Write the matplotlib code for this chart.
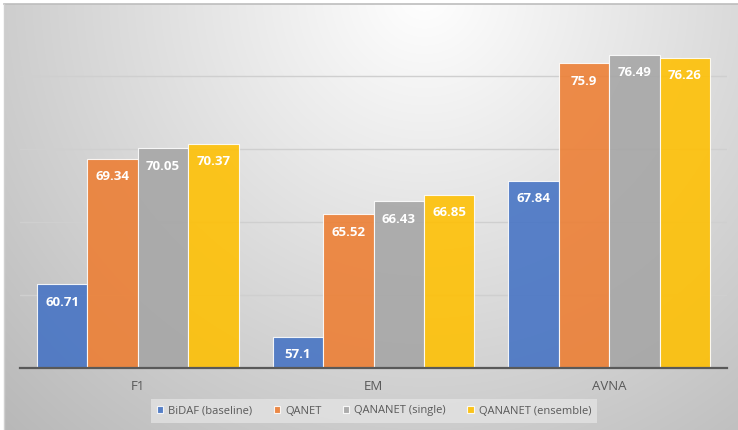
import matplotlib.pyplot as plt
import numpy as np

plt.rcParams['font.family'] = ['Open Sans', 'DejaVu Sans']

# data
categories = ['F1', 'EM', 'AVNA']
models = ['BiDAF (baseline)', 'QANET', 'QANANET (single)', 'QANANET (ensemble)']
bidaf = [60.71, 57.1, 67.84]
qanet = [69.34, 65.52, 75.9]
qananet_single = [70.05, 66.43, 76.49]
qananet_ensemble = [70.37, 66.85, 76.26]
value_labels = [['60.71', '57.1', '67.84'],
                ['69.34', '65.52', '75.9'],
                ['70.05', '66.43', '76.49'],
                ['70.37', '66.85', '76.26']]

colors = ['#4472C4', '#ED7D31', '#A5A5A5', '#FFC000']
series = [bidaf, qanet, qananet_single, qananet_ensemble]

W, H = 738, 430
fig = plt.figure(figsize=(W / 100, H / 100), dpi=100)
fig.patch.set_facecolor('white')

# radial gradient background of the chart area
bg = fig.add_axes([4 / W, 0, (W - 4) / W, (H - 4) / H])
yy, xx = np.mgrid[0:H - 4, 0:W - 4]
d = np.sqrt((xx - 420) ** 2 + (yy + 10) ** 2)
shade = np.clip(1.0 - 0.00046 * d, 0, 1)
bg.imshow(np.dstack([shade] * 3), aspect='auto', interpolation='bilinear')
bg.axis('off')
fig.add_artist(plt.Line2D([4 / W, 1], [(H - 4) / H] * 2, color='#BDBDBD', lw=1.2,
                          transform=fig.transFigure))
fig.add_artist(plt.Line2D([4 / W, 4 / W], [0, (H - 4) / H], color='#D0D0D0', lw=1.0,
                          transform=fig.transFigure))

ax = fig.add_axes([20 / W, (H - 367.5) / H, 707 / W, 364 / H])
ax.patch.set_alpha(0)

x = np.arange(len(categories))
width = 0.214

for i, vals in enumerate(series):
    offs = (i - 1.5) * width
    bars = ax.bar(x + offs, vals, width, color=colors[i], alpha=0.88,
                  edgecolor=(1, 1, 1, 0.45), linewidth=0.8, label=models[i], zorder=3)
    for rect, lab in zip(bars, value_labels[i]):
        ax.annotate(lab, xy=(rect.get_x() + rect.get_width() / 2, rect.get_height()),
                    xytext=(0, -15.5), textcoords='offset points',
                    ha='center', va='baseline', color='white',
                    fontsize=9.5, fontweight='bold', zorder=4)

ax.set_ylim(55, 80)
ax.set_xlim(-0.5, 2.5)
for g in [60, 65, 70, 75]:
    ax.axhline(g, color='#CFCFCF', lw=1.0, zorder=1)
ax.axhline(55, color='#595959', lw=1.6, zorder=5, clip_on=False)

for s in ax.spines.values():
    s.set_visible(False)
ax.set_yticks([])
ax.set_xticks(x)
ax.set_xticklabels(categories, color='#595959', fontsize=9.5)
ax.tick_params(axis='x', length=0, pad=9)

leg = ax.legend(loc='center', bbox_to_anchor=(374 / W, 19 / H), bbox_transform=fig.transFigure,
                ncol=4, frameon=True, fontsize=8, handlelength=0.6, handleheight=0.6,
                handletextpad=0.45, columnspacing=1.9, borderpad=0.55)
leg.get_frame().set_facecolor('#E6E6E6')
leg.get_frame().set_alpha(0.7)
leg.get_frame().set_edgecolor('none')
leg.get_frame().set_boxstyle('square', pad=0)
for t in leg.get_texts():
    t.set_color('#595959')

plt.savefig('out.png', dpi=100)
